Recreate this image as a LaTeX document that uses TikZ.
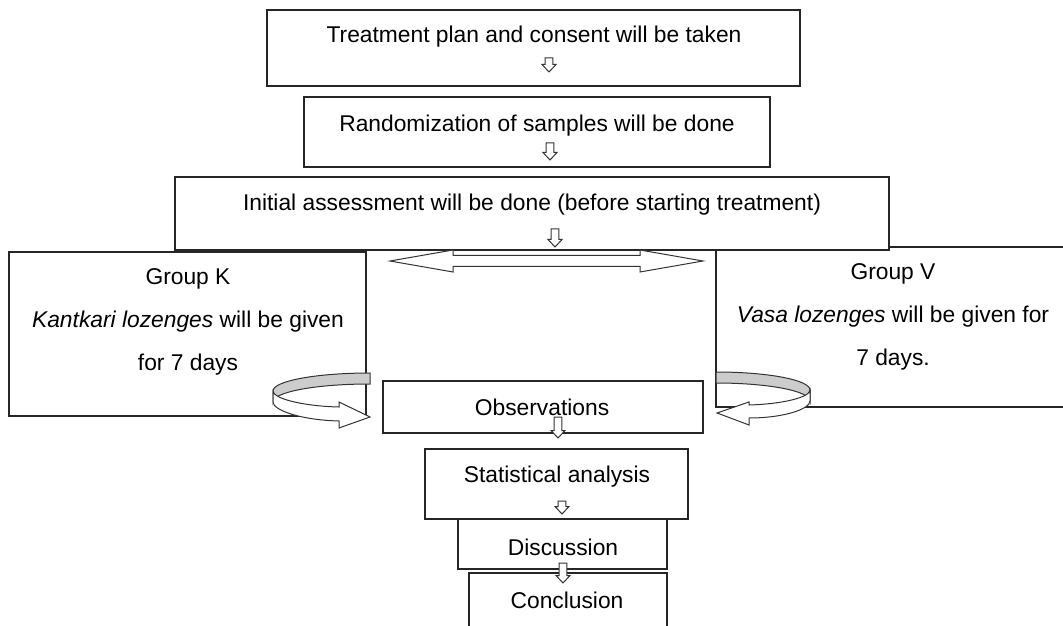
\documentclass[tikz,border=0pt]{standalone}
\usepackage{fontspec}
\setmainfont{Liberation Sans}
\usetikzlibrary{fit}

\begin{document}
\begin{tikzpicture}[x=0.5pt,y=-0.5pt,
box/.style={draw=black!85,line width=0.6pt,fill=white,inner sep=0pt},
txt/.style={font=\fontsize{11.4}{21.5}\selectfont,align=center,inner sep=0pt},
shp/.style={draw=black!80,line width=0.5pt,fill=#1},
shp/.default=white,
hollowdown/.pic={\draw[shp](-3.8,0)--(3.8,0)--(3.8,#1-7.5)--(7,#1-7.5)--(0,#1)--(-7,#1-7.5)--(-3.8,#1-7.5)--cycle;}]
\useasboundingbox (0,0) rectangle (1063,625);
\clip (0,0) rectangle (1063,625);
% groups
\node (grpK) [box,fit={(9,252)(366,416)}] {};
\node (grpV) [box,fit={(716,247)(1080,407)}] {};
% steps
\node (plan) [box,fit={(267,10)(800,86)}] {};
\node (random) [box,fit={(304,97)(770,167)}] {};
\node (initial) [box,fit={(175,177)(889,250)}] {};
\node (obs) [box,fit={(383,381)(703,433)}] {};
\node (stat) [box,fit={(425,449)(688,519)}] {};
\node (disc) [box,fit={(458,519)(667,569)}] {};
\node (concl) [box,fit={(469,573)(667,645)}] {};
% texts
\node (plantxt) [txt] at (534,37) {Treatment plan and consent will be taken};
\node (randtxt) [txt] at (537,126) {Randomization of samples will be done};
\node (inittxt) [txt] at (532,205) {Initial assessment will be done (before starting treatment)};
\node (grpKtxt) [txt] at (188,322) {Group K\\\textit{Kantkari lozenges} will be given\\for 7 days};
\node (grpVtxt) [txt] at (893,317) {Group V\\\textit{Vasa lozenges} will be given for\\7 days.};
\node (obstxt) [txt] at (542,407) {Observations};
\node (stattxt) [txt] at (557,477) {Statistical analysis};
\node (disctxt) [txt] at (563,547) {Discussion};
\node (concltxt) [txt] at (567,600) {Conclusion};
% hollow arrows
\pic at (549,58) {hollowdown=14};
\pic at (550,143) {hollowdown=17};
\pic at (555,229) {hollowdown=18};
\pic at (558,417) {hollowdown=21};
\pic at (562,501) {hollowdown=13};
\pic at (563,563) {hollowdown=20};
\draw[shp] (390,261)--(453,250)--(453,255.5)--(640,255.5)--(640,250)--(703,261)
  --(640,272)--(640,266.5)--(453,266.5)--(453,272)--cycle;
% curved arrows
\draw[shp=gray!40] (370,373) .. controls (316,373) and (273,381) .. (273,391)
  -- (273,402) .. controls (273,392) and (316,384) .. (370,384) -- cycle;
\draw[shp] (273,391) .. controls (273,398) and (300,406) .. (339,407)
  -- (339,402) -- (370,417) -- (339,428) -- (339,421)
  .. controls (300,420) and (273,410) .. (273,402) -- cycle;
\draw[shp=gray!40] (716,372) .. controls (768,372) and (810,380) .. (810,390)
  -- (810,401) .. controls (810,391) and (768,383) .. (716,383) -- cycle;
\draw[shp] (810,390) .. controls (810,397) and (784,404) .. (749,405)
  -- (749,402) -- (717,413) -- (749,425) -- (749,418)
  .. controls (784,418) and (810,409) .. (810,401) -- cycle;
\end{tikzpicture}
\end{document}
